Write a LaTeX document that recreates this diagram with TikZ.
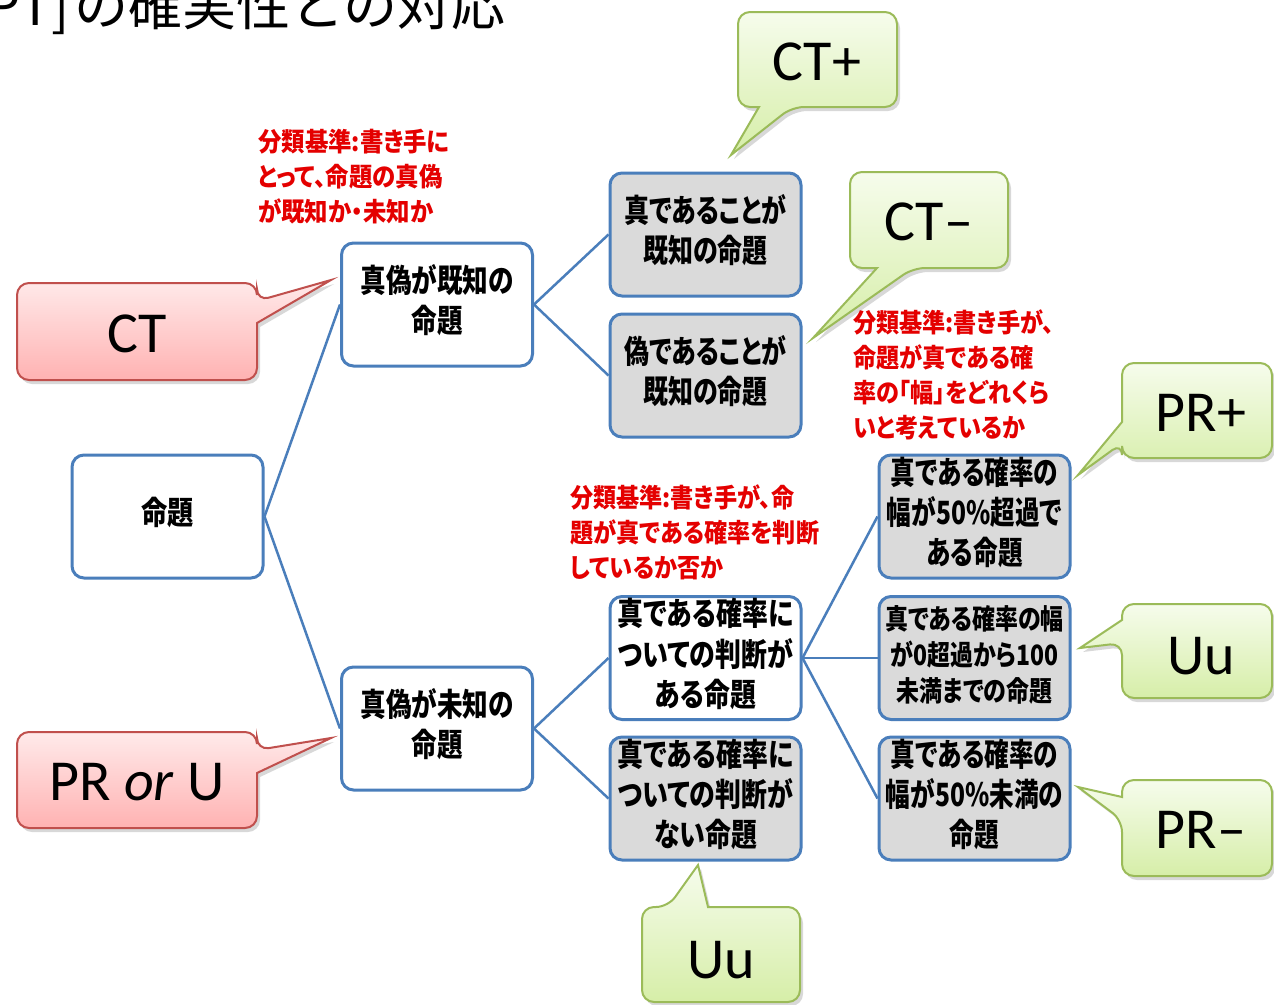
\documentclass[tikz,border=0pt]{standalone}
\usepackage{fontspec}
\usepackage{graphicx}
\usetikzlibrary{shadows}
\newfontfamily\jp[RawFeature=+palt]{Noto Sans CJK JP}
\newfontfamily\jpt{Noto Sans CJK JP}
\newfontfamily\calfont{Carlito}
\definecolor{bord}{RGB}{74,126,187}
\definecolor{boxgray}{RGB}{218,218,218}
\definecolor{lbl}{RGB}{228,0,0}
\definecolor{gborder}{RGB}{155,187,89}
\definecolor{gtop}{RGB}{246,252,236}
\definecolor{gbot}{RGB}{214,238,168}
\definecolor{rborder}{RGB}{192,80,77}
\definecolor{rtop}{RGB}{255,234,234}
\definecolor{rbot}{RGB}{255,178,178}
\newcommand\jbox[2]{\scalebox{#1}[1]{\begin{tabular}{@{}c@{}}#2\end{tabular}}}
\newcommand\jlbl[2]{\scalebox{#1}[1]{\begin{tabular}{@{}l@{}}#2\end{tabular}}}
\tikzset{
  box/.style={draw=bord, line width=3pt, rounded corners=12pt, minimum width=191pt,
    minimum height=123pt, inner sep=0pt, align=center,
    font=\jp\bfseries\fontsize{32}{40}\selectfont},
  whitebox/.style={box, fill=white},
  graybox/.style={box, fill=boxgray},
  link/.style={draw=bord, line width=2.5pt},
  lbltext/.style={anchor=north west, inner sep=0pt, text=lbl,
    font=\jp\bfseries\fontsize{26}{35}\selectfont},
  callshadow/.style={drop shadow={opacity=0.3, shadow xshift=3pt, shadow yshift=-4pt}},
  gcall/.style={callshadow, draw=gborder, line width=2pt, top color=gtop, bottom color=gbot},
  rcall/.style={callshadow, draw=rborder, line width=2pt, top color=rtop, bottom color=rbot},
  calltext/.style={inner sep=0pt, font=\calfont\fontsize{58}{58}\selectfont}
}
\begin{document}
\begin{tikzpicture}[x=1pt, y=-1pt]
\useasboundingbox (0,0) rectangle (1274,1004);
\clip (0,0) rectangle (1274,1004);
\fill[white] (0,0) rectangle (1274,1004);

% title (cut off at the top)
\node[anchor=base east, inner sep=0pt, font=\jpt\fontsize{54}{54}\selectfont] (titleA) at (70,25) {PT]};
\node[anchor=base west, inner sep=0pt, font=\jpt\fontsize{54}{54}\selectfont] (titleB) at (74,25) {の確実性との対応};

% boxes
\node[whitebox] (root) at (167.5,516.5) {\jbox{0.82}{命題}};
\node[whitebox] (known) at (437,304.5) {\jbox{0.8}{真偽が既知の\\命題}};
\node[whitebox] (unknown) at (437,728.5) {\jbox{0.8}{真偽が未知の\\命題}};
\node[graybox] (kt) at (705.5,234.5) {\jbox{0.78}{真であることが\\既知の命題}};
\node[graybox] (kf) at (705.5,375.5) {\jbox{0.78}{偽であることが\\既知の命題}};
\node[whitebox] (ja) at (705.5,658) {\jbox{0.81}{真である確率に\\ついての判断が\\ある命題}};
\node[graybox] (jn) at (705.5,798.5) {\jbox{0.81}{真である確率に\\ついての判断が\\ない命題}};
\node[graybox] (p1) at (974.5,516.5) {\jbox{0.77}{真である確率の\\幅が50\%超過で\\ある命題}};
\node[graybox, font=\jp\bfseries\fontsize{28}{36}\selectfont] (p2) at (974.5,658) {\jbox{0.82}{真である確率の幅\\が0超過から100\\未満までの命題}};
\node[graybox] (p3) at (974.5,798.5) {\jbox{0.77}{真である確率の\\幅が50\%未満の\\命題}};

% connectors
\draw[link] (root.east) -- (known.west);
\draw[link] (root.east) -- (unknown.west);
\draw[link] (known.east) -- (kt.west);
\draw[link] (known.east) -- (kf.west);
\draw[link] (unknown.east) -- (ja.west);
\draw[link] (unknown.east) -- (jn.west);
\draw[link] (ja.east) -- (p1.west);
\draw[link] (ja.east) -- (p2.west);
\draw[link] (ja.east) -- (p3.west);

% red criterion labels
\node[lbltext] (lab1) at (258,127) {\jlbl{0.9}{分類基準:書き手に\\とって、命題の真偽\\が既知か・未知か}};
\node[lbltext] (lab2) at (853,308) {\jlbl{0.89}{分類基準:書き手が、\\命題が真である確\\率の「幅」をどれくら\\いと考えているか}};
\node[lbltext] (lab3) at (570,483) {\jlbl{0.89}{分類基準:書き手が、命\\題が真である確率を判断\\しているか否か}};

% callouts
\path[rcall] [rounded corners=12pt] (137,283) -- (257,283) -- (257,301) [sharp corners] -- (331,280) -- (257,323) [rounded corners=12pt] -- (257,380) -- (17,380) -- (17,283) -- cycle;
\node[calltext] (cCT) at (137,334) {CT};

\path[rcall] [rounded corners=12pt] (137,732) -- (257,732) -- (257,750) [sharp corners] -- (331,738) -- (257,773) [rounded corners=12pt] -- (257,828) -- (17,828) -- (17,732) -- cycle;
\node[calltext] (cPR) at (137,782) {PR \textit{or} U};

\path[gcall] [rounded corners=12pt] (817,12) -- (897,12) -- (897,107) -- (792,107) [sharp corners] -- (731,155) -- (759,107) [rounded corners=12pt] -- (738,107) -- (738,12) -- cycle;
\node[calltext] (cCTp) at (817,62) {CT+};

\path[gcall] [rounded corners=12pt] (929,172) -- (1008,172) -- (1008,268) -- (913,268) [sharp corners] -- (813,338) -- (877,268) [rounded corners=12pt] -- (850,268) -- (850,172) -- cycle;
\node[calltext] (cCTm) at (929,222) {CT–};

\path[gcall] [rounded corners=12pt] (1197,363) -- (1272,363) -- (1272,458) -- (1122,458) -- (1122,443) [sharp corners] -- (1078,475) -- (1122,422) [rounded corners=12pt] -- (1122,363) -- cycle;
\node[calltext] (cPRp) at (1201,413) {PR+};

\path[gcall] [rounded corners=12pt] (1197,604) -- (1272,604) -- (1272,698) -- (1122,698) -- (1122,643) [sharp corners] -- (1080,648) -- (1122,620) [rounded corners=12pt] -- (1122,604) -- cycle;
\node[calltext] (cUu) at (1201,656) {Uu};

\path[gcall] [rounded corners=12pt] (1197,780) -- (1272,780) -- (1272,876) -- (1122,876) -- (1122,820) [sharp corners] -- (1078,787) -- (1122,797) [rounded corners=12pt] -- (1122,780) -- cycle;
\node[calltext] (cPRm) at (1201,830) {PR–};

\path[gcall] [rounded corners=12pt] (760,907) -- (800,907) -- (800,1002) -- (642,1002) -- (642,907) -- (668,907) [sharp corners] -- (698,865) -- (708,907) [rounded corners=12pt] -- cycle;
\node[calltext] (cUub) at (721,960) {Uu};
\end{tikzpicture}
\end{document}
